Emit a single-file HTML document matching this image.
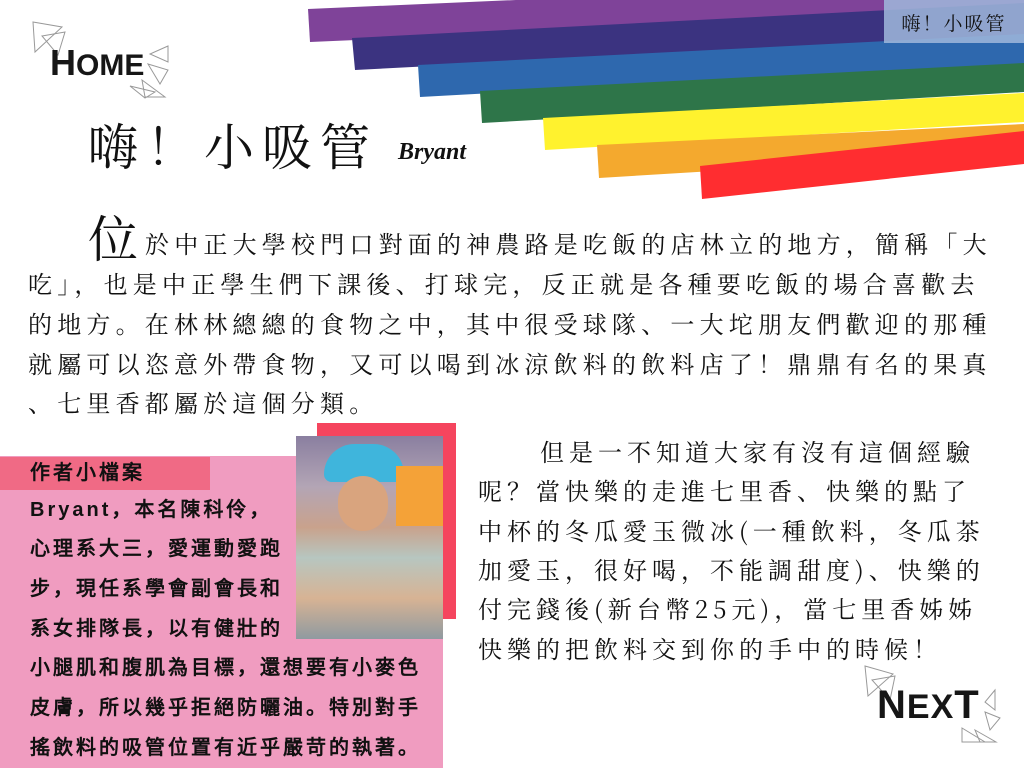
<!DOCTYPE html>
<html><head><meta charset="utf-8">
<style>
html,body{margin:0;padding:0;}
body{width:1024px;height:768px;position:relative;overflow:hidden;background:#fff;font-family:"Liberation Serif","Noto Serif CJK SC",serif;}
.abs{position:absolute;white-space:nowrap;}
.body-line{position:absolute;white-space:nowrap;font-size:24px;letter-spacing:5.2px;color:#111;font-family:"Noto Serif CJK SC",serif;line-height:30px;}
.box-line{position:absolute;white-space:nowrap;font-size:20px;letter-spacing:3px;font-weight:bold;color:#111;font-family:"Liberation Sans","WenQuanYi Zen Hei",sans-serif;line-height:26px;}
.r-line{position:absolute;white-space:nowrap;font-size:24px;letter-spacing:5px;color:#111;font-family:"Noto Serif CJK SC",serif;line-height:30px;}
</style></head>
<body>
<svg class="abs" style="left:0;top:0" width="1024" height="768">
  <polygon points="308,9 1024,-22 1024,11 310,42" fill="#7f4399"/>
  <polygon points="352,38 1024,3 1024,35 355,70" fill="#3b3380"/>
  <polygon points="418,65 1024,34 1024,64 420,97" fill="#2e68ae"/>
  <polygon points="480,91 1024,63 1024,92 482,123" fill="#2e7549"/>
  <polygon points="543,118 1024,93 1024,122 545,150" fill="#fff22e"/>
  <polygon points="597,145 1024,124 1024,152 599,178" fill="#f4a92e"/>
  <polygon points="700,166 1024,131 1024,164 702,199" fill="#ff2d30"/>
  <g fill="none" stroke="#999" stroke-width="1">
    <polygon points="33,22 62,27 35,52"/><polygon points="42,36 65,32 58,55"/>
    <polygon points="168,46 150,54 168,62"/><polygon points="148,64 168,70 160,84"/>
    <polygon points="130,86 155,92 145,98"/><polygon points="142,80 165,97 145,97"/>
    <polygon points="865,666 893,674 868,696"/><polygon points="872,680 895,676 890,700"/>
    <polygon points="995,690 985,702 995,710"/><polygon points="985,712 1000,718 990,730"/>
    <polygon points="962,728 985,742 962,742"/><polygon points="975,730 996,742 980,742"/>
  </g>
</svg>
<div class="abs" style="left:884px;top:0;width:140px;height:43px;background:rgba(160,185,220,0.85);font-size:19px;line-height:45px;text-align:center;color:#111;letter-spacing:2px;font-family:'Noto Serif CJK SC',serif;">嗨！小吸管</div>
<div class="abs" style="left:50px;top:42px;font-family:'Liberation Sans',sans-serif;font-weight:bold;font-size:30px;color:#161616;letter-spacing:0px;"><span style="font-size:36px">H</span>OME</div>
<div class="abs" style="left:877px;top:683px;font-family:'Liberation Sans',sans-serif;font-weight:bold;font-size:34px;color:#161616;letter-spacing:1px;"><span style="font-size:40px">N</span>EX<span style="font-size:40px">T</span></div>
<div class="abs" style="left:88px;top:108px;font-size:50px;letter-spacing:8px;color:#111;font-family:'Noto Serif CJK SC',serif;">嗨！小吸管</div>
<div class="abs" style="left:398px;top:139px;font-size:24px;font-style:italic;font-weight:bold;color:#111;">Bryant</div>

<div class="abs" style="left:88px;top:200px;font-size:50px;color:#111;font-family:'Noto Serif CJK SC',serif;">位</div>
<div class="body-line" style="left:145px;top:228px;">於中正大學校門口對面的神農路是吃飯的店林立的地方，簡稱「大</div>
<div class="body-line" style="left:28px;top:268px;">吃」，也是中正學生們下課後、打球完，反正就是各種要吃飯的場合喜歡去</div>
<div class="body-line" style="left:28px;top:308px;">的地方。在林林總總的食物之中，其中很受球隊、一大坨朋友們歡迎的那種</div>
<div class="body-line" style="left:28px;top:348px;">就屬可以恣意外帶食物，又可以喝到冰涼飲料的飲料店了！鼎鼎有名的果真</div>
<div class="body-line" style="left:28px;top:387px;">、七里香都屬於這個分類。</div>

<div class="abs" style="left:317px;top:423px;width:139px;height:196px;background:#f5455e;"></div>
<div class="abs" style="left:0;top:456px;width:443px;height:312px;background:#f09cc0;"></div>
<div class="abs" style="left:0;top:457px;width:210px;height:33px;background:#f06a85;"></div>
<div class="abs" style="left:296px;top:436px;width:147px;height:203px;background:linear-gradient(180deg,#8a7fa0 0%,#b3a5b5 25%,#c9a28c 45%,#b7c6c0 60%,#d7b394 80%,#8f9aa0 100%);">
  <div style="position:absolute;left:28px;top:8px;width:80px;height:38px;background:#3fb5dc;border-radius:40px 40px 10px 10px;"></div>
  <div style="position:absolute;left:42px;top:40px;width:50px;height:55px;background:#d9a47e;border-radius:25px;"></div>
  <div style="position:absolute;left:100px;top:30px;width:47px;height:60px;background:#f4a238;"></div>
</div>
<div class="box-line" style="left:30px;top:460px;">作者小檔案</div>
<div class="box-line" style="left:30px;top:497px;">Bryant，本名陳科伶，</div>
<div class="box-line" style="left:30px;top:536px;">心理系大三，愛運動愛跑</div>
<div class="box-line" style="left:30px;top:576px;">步，現任系學會副會長和</div>
<div class="box-line" style="left:30px;top:616px;">系女排隊長，以有健壯的</div>
<div class="box-line" style="left:30px;top:655px;">小腿肌和腹肌為目標，還想要有小麥色</div>
<div class="box-line" style="left:30px;top:695px;">皮膚，所以幾乎拒絕防曬油。特別對手</div>
<div class="box-line" style="left:30px;top:735px;">搖飲料的吸管位置有近乎嚴苛的執著。</div>

<div class="r-line" style="left:540px;top:436px;">但是一不知道大家有沒有這個經驗</div>
<div class="r-line" style="left:478px;top:475px;">呢？當快樂的走進七里香、快樂的點了</div>
<div class="r-line" style="left:478px;top:515px;">中杯的冬瓜愛玉微冰(一種飲料，冬瓜茶</div>
<div class="r-line" style="left:478px;top:554px;">加愛玉，很好喝，不能調甜度)、快樂的</div>
<div class="r-line" style="left:478px;top:593px;">付完錢後(新台幣25元)，當七里香姊姊</div>
<div class="r-line" style="left:478px;top:633px;">快樂的把飲料交到你的手中的時候！</div>
</body></html>
